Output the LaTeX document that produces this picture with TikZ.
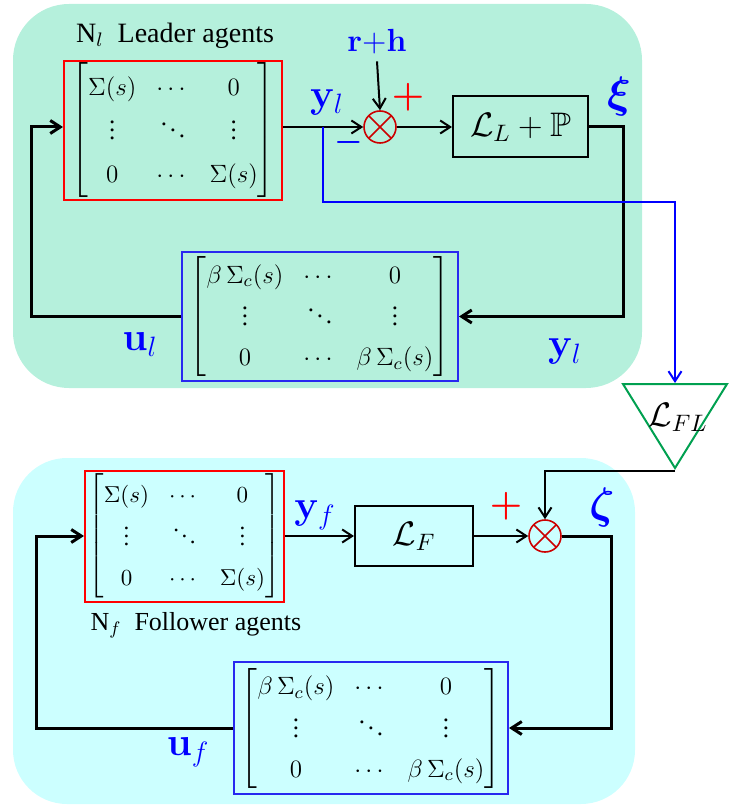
\RequirePackage{fix-cm}
\documentclass[tikz,border=0pt]{standalone}
\usepackage{amsmath,amssymb}
\usepackage[no-math]{fontspec}
\setmainfont{Liberation Serif}
\usetikzlibrary{arrows.meta,positioning,shapes.geometric}

\definecolor{leadbg}{RGB}{181,240,220}
\definecolor{follbg}{RGB}{204,255,255}
\definecolor{sumred}{RGB}{204,0,0}
\definecolor{trigreen}{RGB}{0,160,80}
\definecolor{boxblue}{RGB}{40,40,240}

\newcommand{\plantmat}{\begin{bmatrix}\Sigma(s) & \cdots & 0\\ \vdots & \ddots & \vdots\\ 0 & \cdots & \Sigma(s)\end{bmatrix}}
\newcommand{\ctrlmat}{\begin{bmatrix}\beta\,\Sigma_c(s) & \cdots & 0\\ \vdots & \ddots & \vdots\\ 0 & \cdots & \beta\,\Sigma_c(s)\end{bmatrix}}

\begin{document}
\begin{tikzpicture}[
  x=0.5pt, y=-0.5pt,
  plantbox/.style={rectangle, draw=red, line width=1pt, inner sep=0pt, minimum width=109pt, minimum height=69.5pt, font=\fontsize{12.5}{15}\selectfont\def\arraystretch{1.45}},
  ctrlbox/.style={rectangle, draw=boxblue, line width=1pt, inner sep=0pt, minimum width=138pt, minimum height=64.5pt, font=\fontsize{12.5}{15}\selectfont\def\arraystretch{1.33}},
  gainbox/.style={rectangle, draw, line width=1pt, font=\fontsize{17}{19}\selectfont},
  junc/.style={circle, draw=sumred, line width=0.8pt, minimum size=16pt, inner sep=0pt,
    path picture={\draw[sumred, line width=0.8pt] (path picture bounding box.north west) -- (path picture bounding box.south east)
      (path picture bounding box.north east) -- (path picture bounding box.south west);}},
  fltri/.style={isosceles triangle, isosceles triangle stretches, shape border rotate=270, draw=trigreen, line width=1pt, minimum width=52pt, minimum height=42pt, inner sep=0pt},
  lbl/.style={text=blue, font=\fontsize{20}{24}\selectfont},
  sgn/.style={text=red, font=\fontsize{18.5}{20}\selectfont},
  arr/.style={-{Straight Barb[length=5pt,width=6.5pt]}, line width=1pt},
  fb/.style={arr, line width=1.5pt},
  tap/.style={arr, draw=blue}
]
\useasboundingbox (0,0) rectangle (733,807);

% panels
\fill[leadbg, rounded corners=28pt] (13,4) rectangle (642,388);
\fill[follbg, rounded corners=27pt] (13,458) rectangle (635,804);

% leader loop
\node[plantbox] (plantL) at (173,130.5) {\raisebox{2pt}{$\plantmat$}};
\node[font=\fontsize{14}{16}\selectfont] (titleL) at (175,36) {N$_l$\ \ Leader agents};
\node[junc] (sumL) at (380,127) {};
\node[text=blue, font=\fontsize{16}{18}\selectfont] (rh) at (377,42) {$\mathbf{r}{+}\mathbf{h}$};
\node[sgn] (plusL) at (408,97) {$\boldsymbol{+}$};
\node[sgn, text=blue, font=\fontsize{16}{18}\selectfont] (minusL) at (349,143) {$\boldsymbol{-}$};
\node[gainbox, minimum width=67.5pt, minimum height=30.5pt] (gainL) at (520.5,127) {$\mathcal{L}_L+\mathbb{P}$};
\node[lbl, font=\fontsize{22}{24}\selectfont] (xi) at (619,97) {$\boldsymbol{\xi}$};
\node[ctrlbox] (ctrlL) at (320,316.5) {$\ctrlmat$};
\node[lbl] (yl) at (327,103) {$\mathbf{y}_l$};
\node[lbl] (ul) at (140,345) {$\mathbf{u}_l$};
\node[lbl] (ylb) at (565,352) {$\mathbf{y}_l$};
\node[text=sumred, font=\fontsize{13}{15}\selectfont, anchor=east] (eL) at (7,172) {e};

% coupling
\node[fltri] (tri) at (675,413) {};
\node[font=\fontsize{17}{20}\selectfont] (flgain) at (678,417) {$\mathcal{L}_{FL}$};

% follower loop
\node[plantbox, minimum width=99.5pt, minimum height=65.5pt, font=\fontsize{11.5}{14}\selectfont\def\arraystretch{1.46}] (plantF) at (184.5,536) {$\plantmat$};
\node[font=\fontsize{13}{15}\selectfont] (titleF) at (196,625) {N$_f$\ \ Follower agents};
\node[lbl] (yf) at (315,515) {$\mathbf{y}_f$};
\node[gainbox, minimum width=59pt, minimum height=30pt] (gainF) at (414,536) {$\mathcal{L}_F$};
\node[junc] (sumF) at (545,536) {};
\node[sgn] (plusF) at (506,506) {$\boldsymbol{+}$};
\node[lbl, font=\fontsize{22}{24}\selectfont] (zeta) at (602,507) {$\boldsymbol{\zeta}$};
\node[ctrlbox, minimum width=137pt, minimum height=66pt] (ctrlF) at (371,728) {$\ctrlmat$};
\node[lbl] (uf) at (188,752) {$\mathbf{u}_f$};
\node[text=blue, font=\fontsize{13}{15}\selectfont, anchor=east] (eF) at (7,610) {e};

\coordinate (backL) at (31,0);
\coordinate (turnL) at (623,0);
\coordinate (tapL) at (323,127);
\coordinate (bendL) at (323,202);
\coordinate (backF) at (36,0);
\coordinate (turnF) at (611,0);

\draw[arr] (sumL -| plantL.east) -- (sumL.west);
\draw[arr] (rh.south) -- (sumL.north);
\draw[arr] (sumL.east) -- (gainL.west);
\draw[fb] (gainL.east) -| (turnL |- ctrlL.east) -- (ctrlL.east);
\draw[fb] (ctrlL.west) -| (backL |- sumL) -- (sumL -| plantL.west);
\draw[tap] (tapL) |- (bendL -| tri.north) -- (tri.north);
\draw[arr] (tri.apex) -| (sumF.north);
\draw[arr] (plantF.east) -- (gainF.west);
\draw[arr] (gainF.east) -- (sumF.west);
\draw[fb] (sumF.east) -| (turnF |- ctrlF.east) -- (ctrlF.east);
\draw[fb] (ctrlF.west) -| (backF |- plantF.west) -- (plantF.west);
\end{tikzpicture}
\end{document}
